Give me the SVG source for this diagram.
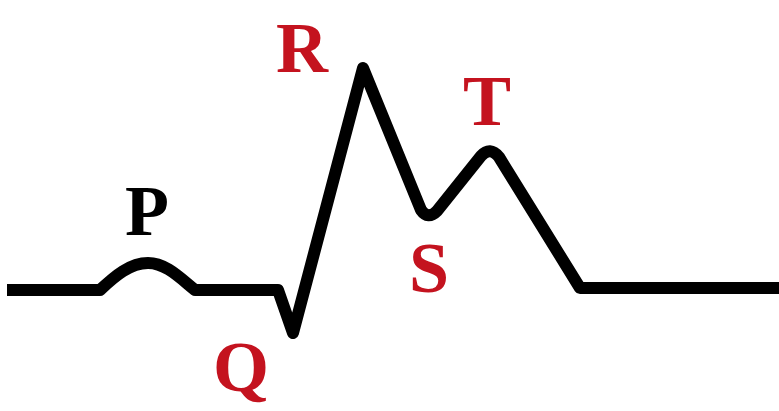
<svg xmlns="http://www.w3.org/2000/svg" width="779" height="411" viewBox="0 0 779 411">
<style>
.wave{fill:none;stroke:#000;stroke-width:12;stroke-linejoin:round;stroke-linecap:butt}
.lbl{font-family:"Liberation Serif","Times New Roman",serif;font-weight:bold;font-size:72px}
.red{fill:#c4131f}
.blk{fill:#000}
</style>
<rect width="779" height="411" fill="#fff"/>
<g id="connectors">
<path class="wave" d="M 7 290 L 100 290 C 115 276 130 263 148 263 C 166 263 180 278 195 290 L 278 290 L 293 333 L 363 68 L 421 210 Q 428 220 437 211 L 481 156 Q 490 146 499 157 L 580 288 L 779 288"/>
</g>
<g id="P"><text class="lbl blk" x="147" y="235" text-anchor="middle">P</text></g>
<g id="Q"><text class="lbl red" x="213" y="391">Q</text></g>
<g id="R"><text class="lbl red" x="302" y="72" text-anchor="middle">R</text></g>
<g id="S"><text class="lbl red" x="429" y="292" text-anchor="middle">S</text></g>
<g id="T"><text class="lbl red" x="487" y="125" text-anchor="middle">T</text></g>
</svg>
